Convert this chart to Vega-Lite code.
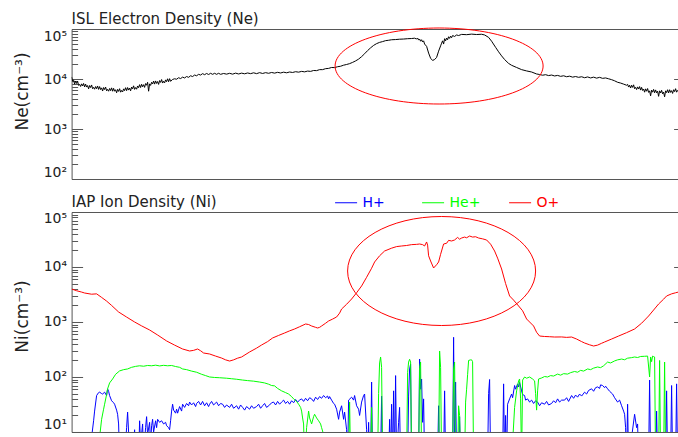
{
  "$schema": "https://vega.github.io/schema/vega-lite/v6.json",
  "padding": {"left": 12.6, "top": 11, "right": 0, "bottom": 0},
  "background": "white",
  "bounds": "flush",
  "spacing": 33,
  "config": {
    "view": {"stroke": null},
    "font": "DejaVu Sans",
    "axis": {"labelFont": "DejaVu Sans", "labelFontSize": 14, "labelColor": "#222", "titleFont": "DejaVu Sans", "titleFontSize": 17, "titleFontWeight": "normal", "titleColor": "#222", "tickColor": "#555", "domainColor": "#555", "grid": false},
    "title": {"font": "DejaVu Sans", "fontSize": 15, "fontWeight": "normal", "color": "#222"}
  },
  "datasets": {
    "ne": [{"x":0,"v":11000},{"x":1,"v":9100},{"x":2,"v":9500},{"x":3,"v":7900},{"x":4,"v":9100},{"x":5,"v":8150},{"x":6,"v":9000},{"x":7,"v":7450},{"x":8,"v":7800},{"x":9,"v":7100},{"x":10,"v":8000},{"x":11,"v":7250},{"x":12,"v":8150},{"x":13,"v":6950},{"x":14,"v":7900},{"x":15,"v":6900},{"x":16,"v":7400},{"x":17,"v":6350},{"x":18,"v":7400},{"x":19,"v":6750},{"x":20,"v":7600},{"x":21,"v":6400},{"x":22,"v":6800},{"x":23,"v":6250},{"x":24,"v":7050},{"x":25,"v":6400},{"x":26,"v":7250},{"x":27,"v":6200},{"x":28,"v":7050},{"x":29,"v":6150},{"x":30,"v":6650},{"x":31,"v":5750},{"x":32,"v":6750},{"x":33,"v":6150},{"x":34,"v":6900},{"x":35,"v":5800},{"x":36,"v":6200},{"x":37,"v":5700},{"x":38,"v":6450},{"x":39,"v":5850},{"x":40,"v":6650},{"x":41,"v":5700},{"x":42,"v":6500},{"x":43,"v":5700},{"x":44,"v":6100},{"x":45,"v":5300},{"x":46,"v":6200},{"x":47,"v":5650},{"x":48,"v":6400},{"x":49,"v":5450},{"x":50,"v":5900},{"x":51,"v":5500},{"x":52,"v":6350},{"x":53,"v":5850},{"x":54,"v":6700},{"x":55,"v":5850},{"x":56,"v":6750},{"x":57,"v":6000},{"x":58,"v":6600},{"x":59,"v":5800},{"x":60,"v":6900},{"x":61,"v":6350},{"x":62,"v":7300},{"x":63,"v":6200},{"x":64,"v":6750},{"x":65,"v":6250},{"x":66,"v":7250},{"x":67,"v":6700},{"x":68,"v":7700},{"x":69,"v":6750},{"x":70,"v":7850},{"x":71,"v":7000},{"x":72,"v":7700},{"x":73,"v":6800},{"x":74,"v":8100},{"x":75,"v":7500},{"x":76,"v":8600},{"x":77,"v":5700},{"x":78,"v":8000},{"x":79,"v":7450},{"x":80,"v":8600},{"x":81,"v":7950},{"x":82,"v":9100},{"x":83,"v":7900},{"x":84,"v":9150},{"x":85,"v":8150},{"x":86,"v":8900},{"x":87,"v":7800},{"x":88,"v":9300},{"x":89,"v":8550},{"x":90,"v":9750},{"x":91,"v":8300},{"x":92,"v":9000},{"x":93,"v":8350},{"x":94,"v":9600},{"x":95,"v":8850},{"x":96,"v":10100},{"x":97,"v":8800},{"x":98,"v":10150},{"x":99,"v":9000},{"x":101,"v":9800},{"x":103,"v":10100},{"x":105,"v":9900},{"x":107,"v":10600},{"x":109,"v":10200},{"x":111,"v":10900},{"x":113,"v":10500},{"x":115,"v":11200},{"x":117,"v":10800},{"x":119,"v":11600},{"x":121,"v":11200},{"x":123,"v":12000},{"x":125,"v":11600},{"x":127,"v":12400},{"x":129,"v":12000},{"x":131,"v":12800},{"x":133,"v":12200},{"x":135,"v":12900},{"x":137,"v":12300},{"x":139,"v":13000},{"x":141,"v":12400},{"x":143,"v":13000},{"x":145,"v":12400},{"x":147,"v":13000},{"x":149,"v":12400},{"x":152,"v":12900},{"x":155,"v":12500},{"x":158,"v":13000},{"x":161,"v":12500},{"x":164,"v":13100},{"x":167,"v":12600},{"x":170,"v":13100},{"x":173,"v":12700},{"x":176,"v":13200},{"x":179,"v":12800},{"x":182,"v":13300},{"x":185,"v":12800},{"x":188,"v":13400},{"x":191,"v":12900},{"x":194,"v":13400},{"x":197,"v":13000},{"x":200,"v":13500},{"x":203,"v":13100},{"x":206,"v":13600},{"x":209,"v":13200},{"x":212,"v":13700},{"x":215,"v":13300},{"x":218,"v":13800},{"x":221,"v":13500},{"x":224,"v":14000},{"x":227,"v":13700},{"x":230,"v":14200},{"x":233,"v":13900},{"x":236,"v":14400},{"x":239,"v":14200},{"x":242,"v":14800},{"x":245,"v":14700},{"x":248,"v":15400},{"x":251,"v":15400},{"x":254,"v":16100},{"x":257,"v":16300},{"x":260,"v":17000},{"x":263,"v":16900},{"x":266,"v":17600},{"x":269,"v":18000},{"x":272,"v":18900},{"x":275,"v":19500},{"x":278,"v":20300},{"x":281,"v":21500},{"x":284,"v":23000},{"x":287,"v":25000},{"x":290,"v":28000},{"x":293,"v":32000},{"x":296,"v":37000},{"x":299,"v":42000},{"x":302,"v":47000},{"x":305,"v":51000},{"x":308,"v":54000},{"x":311,"v":56000},{"x":314,"v":58500},{"x":317,"v":59500},{"x":320,"v":61000},{"x":324,"v":61500},{"x":328,"v":62500},{"x":332,"v":63000},{"x":336,"v":64000},{"x":340,"v":64500},{"x":343,"v":65500},{"x":345,"v":63000},{"x":346,"v":66000},{"x":347,"v":60000},{"x":348,"v":63000},{"x":349,"v":57000},{"x":350,"v":61000},{"x":351,"v":55000},{"x":352,"v":58000},{"x":353,"v":50000},{"x":355,"v":45000},{"x":357,"v":33000},{"x":359,"v":26000},{"x":361,"v":23500},{"x":363,"v":24500},{"x":365,"v":27000},{"x":367,"v":36000},{"x":369,"v":46000},{"x":370,"v":52000},{"x":371,"v":58000},{"x":372,"v":50000},{"x":373,"v":64000},{"x":374,"v":58000},{"x":375,"v":66000},{"x":376,"v":61000},{"x":377,"v":70000},{"x":378,"v":65000},{"x":379,"v":72000},{"x":380,"v":67000},{"x":381,"v":74000},{"x":383,"v":71000},{"x":385,"v":76000},{"x":387,"v":74000},{"x":390,"v":78000},{"x":395,"v":77000},{"x":400,"v":79000},{"x":405,"v":77500},{"x":410,"v":78500},{"x":413,"v":76000},{"x":417,"v":68000},{"x":420,"v":57000},{"x":424,"v":43000},{"x":427,"v":35000},{"x":430,"v":29000},{"x":433,"v":24500},{"x":437,"v":20500},{"x":440,"v":18800},{"x":445,"v":17000},{"x":450,"v":15400},{"x":455,"v":14500},{"x":460,"v":13800},{"x":465,"v":12600},{"x":468,"v":12300},{"x":471,"v":11900},{"x":474,"v":12200},{"x":477,"v":11700},{"x":480,"v":12000},{"x":483,"v":11500},{"x":486,"v":11800},{"x":489,"v":11300},{"x":492,"v":11600},{"x":495,"v":11100},{"x":498,"v":11400},{"x":501,"v":10900},{"x":504,"v":11200},{"x":507,"v":10800},{"x":510,"v":11100},{"x":513,"v":10600},{"x":516,"v":11000},{"x":519,"v":10500},{"x":522,"v":10900},{"x":525,"v":10400},{"x":528,"v":10800},{"x":531,"v":10300},{"x":534,"v":10500},{"x":537,"v":10100},{"x":540,"v":9700},{"x":543,"v":9200},{"x":546,"v":8600},{"x":549,"v":8300},{"x":552,"v":7900},{"x":555,"v":7500},{"x":556,"v":7800},{"x":557,"v":6900},{"x":558,"v":7500},{"x":559,"v":6600},{"x":560,"v":7500},{"x":561,"v":6800},{"x":562,"v":7650},{"x":563,"v":6400},{"x":564,"v":6800},{"x":565,"v":6150},{"x":566,"v":6950},{"x":567,"v":6300},{"x":568,"v":7050},{"x":569,"v":6000},{"x":570,"v":6800},{"x":571,"v":5900},{"x":572,"v":6300},{"x":573,"v":5450},{"x":574,"v":6350},{"x":575,"v":5700},{"x":576,"v":6450},{"x":577,"v":5400},{"x":578,"v":5800},{"x":579,"v":4600},{"x":580,"v":6000},{"x":581,"v":5450},{"x":582,"v":6200},{"x":583,"v":5300},{"x":584,"v":6050},{"x":585,"v":5300},{"x":586,"v":5700},{"x":587,"v":4500},{"x":588,"v":5800},{"x":589,"v":5250},{"x":590,"v":5950},{"x":591,"v":5050},{"x":592,"v":5460},{"x":593,"v":4400},{"x":594,"v":5800},{"x":595,"v":5350},{"x":596,"v":6100},{"x":597,"v":5250},{"x":598,"v":6100},{"x":599,"v":5400},{"x":600,"v":5850},{"x":601,"v":5150},{"x":602,"v":6100},{"x":603,"v":5600},{"x":604,"v":6400},{"x":605,"v":5450},{"x":606,"v":5900},{"x":607,"v":6200}],
    "op": [{"x":0,"v":3981},{"x":5,"v":3700},{"x":10,"v":3500},{"x":13,"v":3365},{"x":20,"v":3200},{"x":25,"v":3250},{"x":30,"v":2800},{"x":35,"v":2400},{"x":40,"v":2000},{"x":47,"v":1520},{"x":55,"v":1230},{"x":63,"v":1000},{"x":70,"v":850},{"x":78,"v":716},{"x":86,"v":580},{"x":95,"v":452},{"x":103,"v":380},{"x":111,"v":323},{"x":118,"v":297},{"x":122,"v":305},{"x":126,"v":323},{"x":129,"v":300},{"x":132,"v":273},{"x":138,"v":262},{"x":144,"v":240},{"x":150,"v":221},{"x":154,"v":205},{"x":158,"v":195},{"x":162,"v":205},{"x":166,"v":220},{"x":170,"v":231},{"x":178,"v":285},{"x":185,"v":335},{"x":190,"v":382},{"x":196,"v":440},{"x":201,"v":512},{"x":207,"v":570},{"x":213,"v":631},{"x":218,"v":690},{"x":223,"v":746},{"x":228,"v":820},{"x":234,"v":920},{"x":237,"v":900},{"x":240,"v":846},{"x":244,"v":800},{"x":246,"v":778},{"x":248,"v":800},{"x":250,"v":846},{"x":254,"v":950},{"x":257,"v":1043},{"x":261,"v":1130},{"x":265,"v":1234},{"x":268,"v":1450},{"x":270,"v":1722},{"x":275,"v":2100},{"x":280,"v":2618},{"x":285,"v":3400},{"x":290,"v":4519},{"x":295,"v":6500},{"x":300,"v":9500},{"x":303,"v":12330},{"x":308,"v":16000},{"x":313,"v":19530},{"x":320,"v":22000},{"x":325,"v":23500},{"x":330,"v":24100},{"x":335,"v":24600},{"x":340,"v":25500},{"x":345,"v":25800},{"x":348,"v":26190},{"x":351,"v":25500},{"x":353,"v":24100},{"x":355,"v":28500},{"x":356,"v":25000},{"x":357,"v":16000},{"x":359,"v":12850},{"x":362,"v":9590},{"x":365,"v":11000},{"x":367,"v":12330},{"x":369,"v":17000},{"x":372,"v":26190},{"x":375,"v":27000},{"x":377,"v":30500},{"x":380,"v":29700},{"x":383,"v":31000},{"x":386,"v":34500},{"x":388,"v":32000},{"x":390,"v":33650},{"x":393,"v":35000},{"x":395,"v":34000},{"x":398,"v":36600},{"x":401,"v":35000},{"x":404,"v":35500},{"x":407,"v":33650},{"x":411,"v":32500},{"x":415,"v":31000},{"x":419,"v":26000},{"x":423,"v":19530},{"x":426,"v":14500},{"x":430,"v":9200},{"x":434,"v":5000},{"x":438,"v":2972},{"x":442,"v":2500},{"x":447,"v":1954},{"x":451,"v":1600},{"x":455,"v":1134},{"x":458,"v":1000},{"x":462,"v":846},{"x":465,"v":650},{"x":468,"v":556},{"x":473,"v":545},{"x":478,"v":540},{"x":483,"v":533},{"x":490,"v":535},{"x":495,"v":525},{"x":500,"v":533},{"x":505,"v":490},{"x":510,"v":440},{"x":513,"v":415},{"x":518,"v":385},{"x":522,"v":366},{"x":526,"v":380},{"x":530,"v":410},{"x":533,"v":433},{"x":540,"v":490},{"x":547,"v":556},{"x":555,"v":640},{"x":563,"v":746},{"x":570,"v":950},{"x":577,"v":1285},{"x":582,"v":1650},{"x":587,"v":2124},{"x":592,"v":2600},{"x":595,"v":2972},{"x":600,"v":3250},{"x":604,"v":3400},{"x":607,"v":3510}],
    "hep": [{"x":0,"v":3},{"x":27,"v":3},{"x":28,"v":8},{"x":30,"v":17},{"x":32,"v":26},{"x":33,"v":32},{"x":35,"v":48},{"x":36,"v":61},{"x":38,"v":78},{"x":41,"v":92},{"x":44,"v":112},{"x":48,"v":129},{"x":52,"v":136},{"x":56,"v":140},{"x":60,"v":150},{"x":64,"v":156},{"x":68,"v":160},{"x":72,"v":157},{"x":76,"v":162},{"x":80,"v":160},{"x":84,"v":164},{"x":88,"v":159},{"x":92,"v":163},{"x":96,"v":160},{"x":100,"v":162},{"x":104,"v":155},{"x":108,"v":150},{"x":111,"v":140},{"x":115,"v":136},{"x":120,"v":128},{"x":125,"v":122},{"x":130,"v":112},{"x":134,"v":106},{"x":138,"v":100},{"x":143,"v":98},{"x":148,"v":97},{"x":155,"v":95},{"x":160,"v":93},{"x":165,"v":91},{"x":171,"v":88},{"x":176,"v":86},{"x":182,"v":84},{"x":188,"v":81},{"x":193,"v":78},{"x":197,"v":74},{"x":200,"v":70},{"x":203,"v":69},{"x":206,"v":62},{"x":210,"v":56},{"x":214,"v":52},{"x":217,"v":49},{"x":220,"v":44},{"x":222,"v":40},{"x":225,"v":36},{"x":227,"v":32},{"x":229,"v":28},{"x":230,"v":24},{"x":231,"v":18},{"x":232,"v":14},{"x":233,"v":3},{"x":235,"v":12},{"x":237,"v":24},{"x":238,"v":18},{"x":240,"v":14},{"x":242,"v":19},{"x":243,"v":21},{"x":245,"v":18},{"x":247,"v":16},{"x":249,"v":14},{"x":250,"v":12},{"x":252,"v":9},{"x":253,"v":3},{"x":277,"v":3},{"x":278,"v":35},{"x":279,"v":3},{"x":299,"v":3},{"x":300,"v":28},{"x":301,"v":3},{"x":306,"v":3},{"x":307,"v":50},{"x":308,"v":180},{"x":309,"v":231},{"x":310,"v":150},{"x":311,"v":3},{"x":335,"v":3},{"x":336,"v":120},{"x":337,"v":187},{"x":338,"v":210},{"x":339,"v":187},{"x":340,"v":3},{"x":347,"v":3},{"x":348,"v":150},{"x":349,"v":187},{"x":350,"v":3},{"x":367,"v":3},{"x":368,"v":297},{"x":369,"v":150},{"x":370,"v":3},{"x":381,"v":3},{"x":382,"v":140},{"x":383,"v":187},{"x":384,"v":3},{"x":386,"v":3},{"x":387,"v":30},{"x":388,"v":20},{"x":389,"v":3},{"x":393,"v":3},{"x":394,"v":35},{"x":395,"v":60},{"x":396,"v":110},{"x":397,"v":200},{"x":399,"v":205},{"x":400,"v":205},{"x":401,"v":190},{"x":402,"v":3},{"x":440,"v":3},{"x":443,"v":28},{"x":445,"v":56},{"x":447,"v":85},{"x":448,"v":92},{"x":449,"v":40},{"x":450,"v":3},{"x":451,"v":88},{"x":453,"v":100},{"x":455,"v":95},{"x":458,"v":100},{"x":461,"v":92},{"x":463,"v":85},{"x":464,"v":50},{"x":465,"v":25},{"x":466,"v":56},{"x":467,"v":92},{"x":470,"v":96},{"x":473,"v":102},{"x":476,"v":100},{"x":479,"v":106},{"x":482,"v":104},{"x":486,"v":113},{"x":489,"v":108},{"x":492,"v":115},{"x":496,"v":113},{"x":499,"v":120},{"x":503,"v":126},{"x":506,"v":122},{"x":509,"v":132},{"x":512,"v":128},{"x":516,"v":140},{"x":519,"v":136},{"x":522,"v":145},{"x":526,"v":152},{"x":529,"v":148},{"x":532,"v":160},{"x":536,"v":187},{"x":539,"v":180},{"x":543,"v":196},{"x":546,"v":205},{"x":550,"v":212},{"x":553,"v":206},{"x":556,"v":220},{"x":560,"v":225},{"x":563,"v":231},{"x":566,"v":226},{"x":569,"v":236},{"x":573,"v":238},{"x":576,"v":240},{"x":578,"v":100},{"x":579,"v":231},{"x":580,"v":190},{"x":581,"v":240},{"x":582,"v":235},{"x":583,"v":231},{"x":584,"v":3},{"x":587,"v":3},{"x":588,"v":200},{"x":589,"v":3},{"x":592,"v":3},{"x":593,"v":187},{"x":594,"v":3},{"x":607,"v":3}],
    "hp": [{"x":0,"v":3},{"x":19,"v":3},{"x":20,"v":8},{"x":22,"v":16},{"x":23,"v":24},{"x":25,"v":46},{"x":27,"v":52},{"x":28,"v":53},{"x":30,"v":50},{"x":31,"v":49},{"x":33,"v":53},{"x":35,"v":46},{"x":36,"v":61},{"x":37,"v":55},{"x":38,"v":46},{"x":40,"v":37},{"x":42,"v":34},{"x":43,"v":32},{"x":45,"v":25},{"x":46,"v":21},{"x":47,"v":14},{"x":48,"v":3},{"x":53,"v":3},{"x":55,"v":12},{"x":56,"v":23},{"x":57,"v":10},{"x":58,"v":3},{"x":61,"v":3},{"x":63,"v":11},{"x":64,"v":3},{"x":66,"v":8},{"x":67,"v":3},{"x":68,"v":16},{"x":69,"v":6},{"x":71,"v":14},{"x":72,"v":4},{"x":74,"v":12},{"x":75,"v":19},{"x":76,"v":9},{"x":78,"v":15},{"x":79,"v":6},{"x":80,"v":13},{"x":81,"v":17},{"x":82,"v":10},{"x":84,"v":16},{"x":85,"v":12},{"x":86,"v":17},{"x":88,"v":15},{"x":90,"v":16},{"x":92,"v":14},{"x":94,"v":15},{"x":95,"v":13},{"x":97,"v":12},{"x":98,"v":11},{"x":99,"v":16},{"x":100,"v":24},{"x":101,"v":32},{"x":102,"v":25},{"x":104,"v":22},{"x":105,"v":26},{"x":106,"v":22},{"x":108,"v":29},{"x":110,"v":24},{"x":111,"v":32},{"x":113,"v":28},{"x":115,"v":33},{"x":117,"v":30},{"x":118,"v":35},{"x":120,"v":31},{"x":122,"v":34},{"x":124,"v":29},{"x":125,"v":33},{"x":127,"v":36},{"x":129,"v":31},{"x":131,"v":36},{"x":133,"v":30},{"x":135,"v":34},{"x":137,"v":29},{"x":138,"v":32},{"x":140,"v":36},{"x":142,"v":31},{"x":145,"v":35},{"x":147,"v":30},{"x":149,"v":33},{"x":151,"v":32},{"x":153,"v":28},{"x":155,"v":31},{"x":158,"v":28},{"x":160,"v":32},{"x":162,"v":27},{"x":165,"v":30},{"x":167,"v":26},{"x":169,"v":31},{"x":171,"v":28},{"x":173,"v":25},{"x":175,"v":29},{"x":178,"v":26},{"x":180,"v":30},{"x":182,"v":27},{"x":185,"v":29},{"x":187,"v":32},{"x":189,"v":27},{"x":191,"v":30},{"x":193,"v":33},{"x":195,"v":28},{"x":198,"v":31},{"x":200,"v":34},{"x":202,"v":35},{"x":204,"v":31},{"x":206,"v":36},{"x":208,"v":32},{"x":210,"v":35},{"x":212,"v":38},{"x":214,"v":33},{"x":216,"v":36},{"x":218,"v":32},{"x":220,"v":37},{"x":222,"v":34},{"x":224,"v":39},{"x":226,"v":35},{"x":228,"v":38},{"x":230,"v":40},{"x":232,"v":36},{"x":234,"v":41},{"x":236,"v":37},{"x":238,"v":42},{"x":240,"v":40},{"x":242,"v":36},{"x":244,"v":43},{"x":246,"v":39},{"x":248,"v":44},{"x":250,"v":41},{"x":252,"v":46},{"x":254,"v":42},{"x":256,"v":45},{"x":257,"v":40},{"x":258,"v":44},{"x":260,"v":38},{"x":262,"v":33},{"x":263,"v":32},{"x":265,"v":26},{"x":267,"v":17},{"x":268,"v":23},{"x":270,"v":30},{"x":272,"v":17},{"x":273,"v":23},{"x":275,"v":11},{"x":276,"v":3},{"x":277,"v":38},{"x":280,"v":43},{"x":282,"v":38},{"x":283,"v":46},{"x":285,"v":30},{"x":287,"v":26},{"x":288,"v":20},{"x":290,"v":35},{"x":292,"v":46},{"x":293,"v":49},{"x":295,"v":11},{"x":296,"v":3},{"x":297,"v":15},{"x":298,"v":3},{"x":299,"v":3},{"x":300,"v":81},{"x":301,"v":3},{"x":309,"v":3},{"x":310,"v":45},{"x":311,"v":3},{"x":317,"v":3},{"x":318,"v":17},{"x":319,"v":3},{"x":320,"v":32},{"x":321,"v":3},{"x":322,"v":56},{"x":323,"v":3},{"x":324,"v":106},{"x":325,"v":3},{"x":327,"v":15},{"x":328,"v":28},{"x":329,"v":3},{"x":336,"v":3},{"x":337,"v":45},{"x":338,"v":140},{"x":339,"v":172},{"x":340,"v":3},{"x":347,"v":3},{"x":348,"v":212},{"x":349,"v":60},{"x":350,"v":92},{"x":351,"v":15},{"x":352,"v":40},{"x":353,"v":3},{"x":366,"v":3},{"x":367,"v":30},{"x":368,"v":3},{"x":372,"v":3},{"x":373,"v":56},{"x":374,"v":3},{"x":381,"v":3},{"x":382,"v":527},{"x":383,"v":3},{"x":384,"v":81},{"x":385,"v":3},{"x":387,"v":3},{"x":388,"v":19},{"x":389,"v":3},{"x":416,"v":3},{"x":417,"v":50},{"x":418,"v":90},{"x":419,"v":3},{"x":431,"v":3},{"x":432,"v":75},{"x":433,"v":3},{"x":434,"v":20},{"x":435,"v":3},{"x":436,"v":32},{"x":438,"v":40},{"x":440,"v":49},{"x":441,"v":42},{"x":443,"v":70},{"x":444,"v":60},{"x":446,"v":75},{"x":447,"v":66},{"x":448,"v":80},{"x":450,"v":56},{"x":451,"v":48},{"x":453,"v":46},{"x":454,"v":38},{"x":456,"v":40},{"x":458,"v":35},{"x":460,"v":38},{"x":462,"v":33},{"x":464,"v":37},{"x":466,"v":35},{"x":468,"v":30},{"x":470,"v":34},{"x":473,"v":32},{"x":475,"v":36},{"x":477,"v":31},{"x":480,"v":33},{"x":482,"v":37},{"x":484,"v":34},{"x":486,"v":40},{"x":488,"v":35},{"x":490,"v":38},{"x":493,"v":38},{"x":495,"v":42},{"x":497,"v":36},{"x":500,"v":46},{"x":502,"v":41},{"x":504,"v":47},{"x":506,"v":43},{"x":508,"v":49},{"x":510,"v":45},{"x":513,"v":53},{"x":515,"v":49},{"x":517,"v":57},{"x":520,"v":61},{"x":522,"v":55},{"x":524,"v":64},{"x":526,"v":66},{"x":528,"v":62},{"x":529,"v":72},{"x":531,"v":70},{"x":533,"v":64},{"x":534,"v":68},{"x":536,"v":61},{"x":538,"v":55},{"x":541,"v":49},{"x":543,"v":42},{"x":546,"v":35},{"x":548,"v":38},{"x":550,"v":30},{"x":552,"v":24},{"x":553,"v":21},{"x":554,"v":12},{"x":555,"v":3},{"x":556,"v":32},{"x":557,"v":3},{"x":563,"v":21},{"x":565,"v":12},{"x":566,"v":14},{"x":567,"v":3},{"x":577,"v":3},{"x":578,"v":88},{"x":579,"v":3},{"x":584,"v":3},{"x":585,"v":24},{"x":586,"v":3},{"x":594,"v":3},{"x":595,"v":56},{"x":596,"v":3},{"x":599,"v":3},{"x":600,"v":70},{"x":601,"v":3},{"x":604,"v":3},{"x":605,"v":75},{"x":606,"v":3},{"x":607,"v":3}],
    "elltop": [{"x": 367.5, "v": 18197}],
    "ellbot": [{"x": 370, "v": 8455}]
  },
  "vconcat": [
    {
      "width": 607,
      "height": 150,
      "title": {"text": "ISL Electron Density (Ne)", "anchor": "start", "frame": "group", "baseline": "alphabetic", "offset": -13},
      "layer": [
        {
          "data": {"name": "ne"},
          "mark": {"type": "line", "color": "#000000", "strokeWidth": 1, "clip": true},
          "encoding": {
            "x": {"field": "x", "type": "quantitative", "scale": {"domain": [0, 607], "nice": false, "zero": false}, "axis": {"orient": "bottom", "domain": true, "ticks": false, "labels": false, "title": null}},
            "y": {"field": "v", "type": "quantitative", "scale": {"type": "log", "domain": [100, 100000], "nice": false}, "axis": {"orient": "left", "values": [100, 1000, 10000, 100000], "tickSize": -11, "labelPadding": 16, "labelFlush": true, "labelFlushOffset": 0, "labelExpr": "datum.value >= 99999 ? '10⁵' : datum.value >= 9999 ? '10⁴' : datum.value >= 999 ? '10³' : '10²'", "domain": true, "title": "Ne(cm⁻³)", "titleX": -44, "titleY": 62, "titleAlign": "center", "titleBaseline": "alphabetic"}}
          }
        },
        {
          "data": {"name": "elltop"},
          "mark": {"type": "point", "shape": "M-1,0C-1,-0.2018,-0.5523,-0.3654,0,-0.3654C0.5523,-0.3654,1,-0.2018,1,0C1,0.2018,0.5523,0.3654,0,0.3654C-0.5523,0.3654,-1,0.2018,-1,0Z", "size": 43264, "filled": false, "color": "#ff0000", "strokeWidth": 1, "opacity": 1},
          "encoding": {
            "x": {"field": "x", "type": "quantitative", "axis": {"orient": "top", "domain": true, "ticks": false, "labels": false, "title": null}},
            "y": {"field": "v", "type": "quantitative", "axis": {"orient": "left", "values": [200,300,400,500,600,700,800,900,2000,3000,4000,5000,6000,7000,8000,9000,20000,30000,40000,50000,60000,70000,80000,90000], "tickSize": -6, "labels": false, "domain": false, "title": null}}
          }
        },
        {
          "data": {"name": "elltop"},
          "mark": {"type": "point", "opacity": 0},
          "encoding": {
            "x": {"field": "x", "type": "quantitative", "axis": null},
            "y": {"field": "v", "type": "quantitative", "axis": {"orient": "right", "values": [100, 1000, 10000, 100000], "tickSize": -5, "labels": false, "domain": false, "title": null}}
          }
        }
      ],
      "resolve": {"axis": {"x": "independent", "y": "independent"}}
    },
    {
      "width": 607,
      "height": 220,
      "title": {"text": "IAP Ion Density (Ni)", "anchor": "start", "frame": "group", "baseline": "alphabetic", "offset": -10},
      "layer": [
        {
          "data": {"name": "hp"},
          "mark": {"type": "line", "strokeWidth": 1, "clip": true},
          "encoding": {
            "x": {"field": "x", "type": "quantitative", "scale": {"domain": [0, 607], "nice": false, "zero": false}, "axis": null},
            "y": {"field": "v", "type": "quantitative", "scale": {"type": "log", "domain": [10, 100000], "nice": false}, "axis": null},
            "color": {"datum": "H+", "type": "nominal", "scale": {"domain": ["H+", "He+", "O+"], "range": ["#0000ff", "#00ff00", "#ff0000"]},
              "legend": {"orient": "none", "legendX": 263, "legendY": 162, "direction": "horizontal", "title": null, "labelFont": "DejaVu Sans", "labelFontSize": 14, "labelOffset": 5, "symbolType": "stroke", "symbolSize": 484, "symbolStrokeWidth": 1, "columnPadding": 26, "gridAlign": "all", "padding": 0, "encode": {"labels": {"update": {"fill": {"scale": "color", "field": "value"}}}}}}
          }
        },
        {
          "data": {"name": "hep"},
          "mark": {"type": "line", "strokeWidth": 1, "clip": true},
          "encoding": {
            "x": {"field": "x", "type": "quantitative", "axis": null},
            "y": {"field": "v", "type": "quantitative", "axis": null},
            "color": {"datum": "He+", "type": "nominal"}
          }
        },
        {
          "data": {"name": "op"},
          "mark": {"type": "line", "strokeWidth": 1, "clip": true},
          "encoding": {
            "x": {"field": "x", "type": "quantitative", "axis": {"orient": "bottom", "domain": true, "ticks": false, "labels": false, "title": null}},
            "y": {"field": "v", "type": "quantitative", "axis": {"orient": "left", "values": [10, 100, 1000, 10000, 100000], "tickSize": -11, "labelPadding": 16, "labelFlush": true, "labelFlushOffset": 0, "labelExpr": "datum.value >= 99999 ? '10⁵' : datum.value >= 9999 ? '10⁴' : datum.value >= 999 ? '10³' : datum.value >= 99 ? '10²' : '10¹'", "domain": true, "title": "Ni(cm⁻³)", "titleX": -44, "titleY": 104, "titleAlign": "center", "titleBaseline": "alphabetic"}},
            "color": {"datum": "O+", "type": "nominal"}
          }
        },
        {
          "data": {"name": "ellbot"},
          "mark": {"type": "point", "shape": "M-1,0C-1,-0.3202,-0.5523,-0.5798,0,-0.5798C0.5523,-0.5798,1,-0.3202,1,0C1,0.3202,0.5523,0.5798,0,0.5798C-0.5523,0.5798,-1,0.3202,-1,0Z", "size": 35344, "filled": false, "color": "#ff0000", "strokeWidth": 1, "opacity": 1},
          "encoding": {
            "x": {"field": "x", "type": "quantitative", "axis": {"orient": "top", "domain": true, "ticks": false, "labels": false, "title": null}},
            "y": {"field": "v", "type": "quantitative", "axis": {"orient": "left", "values": [20,30,40,50,60,70,80,90,200,300,400,500,600,700,800,900,2000,3000,4000,5000,6000,7000,8000,9000,20000,30000,40000,50000,60000,70000,80000,90000], "tickSize": -6, "labels": false, "domain": false, "title": null}}
          }
        },
        {
          "data": {"name": "ellbot"},
          "mark": {"type": "point", "opacity": 0},
          "encoding": {
            "x": {"field": "x", "type": "quantitative", "axis": null},
            "y": {"field": "v", "type": "quantitative", "axis": {"orient": "right", "values": [10, 100, 1000, 10000, 100000], "tickSize": -5, "labels": false, "domain": false, "title": null}}
          }
        }
      ],
      "resolve": {"axis": {"x": "independent", "y": "independent"}}
    }
  ]
}
